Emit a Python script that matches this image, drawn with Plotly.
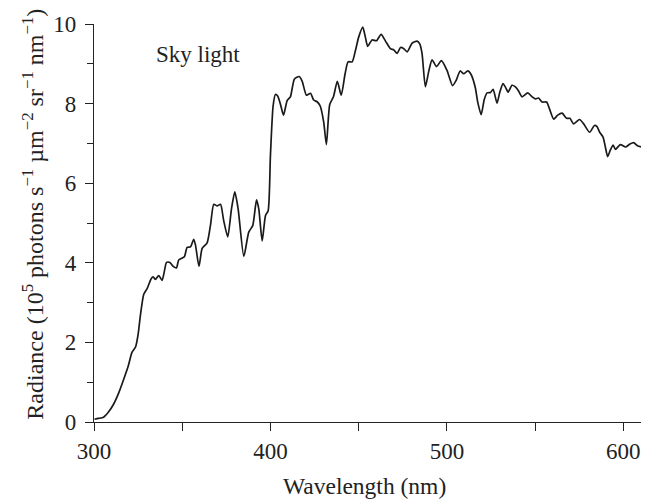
import plotly.graph_objects as go

wavelength = [
    300.3, 302.5, 305.4, 308.2, 311.0, 313.9, 316.8, 319.5, 321.5, 323.6,
    325.0, 326.3, 328.2, 330.1, 332.4, 333.5, 334.8, 336.7, 338.6, 339.9,
    341.1, 343.0, 344.9, 346.7, 348.0, 350.0, 351.3, 352.8, 354.7, 356.5,
    357.5, 359.5, 361.3, 364.1, 366.0, 367.9, 369.8, 371.7, 373.5, 375.8,
    377.9, 379.8, 381.7, 384.9, 387.7, 390.0, 392.1, 393.4, 395.3, 397.2,
    398.7, 400.0, 401.5, 402.8, 404.1, 405.7, 407.4, 409.5, 411.3, 413.6,
    416.3, 418.0, 420.4, 422.7, 424.5, 426.6, 428.2, 430.2, 431.7, 433.6,
    435.7, 437.9, 440.1, 442.3, 444.0, 446.3, 448.2, 450.0, 452.3, 453.8,
    455.1, 457.6, 460.1, 462.7, 465.2, 468.0, 469.9, 471.8, 473.7, 475.6,
    477.5, 480.3, 483.1, 484.6, 485.9, 487.8, 489.7, 491.6, 494.1, 496.9,
    500.0, 503.2, 505.2, 507.5, 509.5, 511.8, 513.7, 516.1, 517.5, 519.4,
    521.2, 522.8, 524.7, 526.2, 528.4, 529.9, 531.8, 533.1, 534.7, 536.9,
    538.8, 540.7, 542.6, 545.8, 548.3, 550.1, 552.0, 553.9, 556.5, 558.2,
    560.5, 562.8, 565.3, 567.8, 569.7, 571.8, 575.2, 577.5, 580.9, 583.6,
    585.1, 586.6, 588.5, 589.8, 591.1, 592.6, 594.2, 595.5, 598.3, 601.2,
    603.6, 605.8, 608.1, 610.0,
]

radiance = [
    0.07, 0.09, 0.12, 0.25, 0.44, 0.72, 1.07, 1.42, 1.75, 1.89,
    2.20, 2.68, 3.21, 3.35, 3.60, 3.65, 3.58, 3.68, 3.56, 3.79,
    4.01, 4.01, 3.91, 3.87, 4.07, 4.12, 4.16, 4.39, 4.40, 4.59,
    4.45, 3.91, 4.36, 4.50, 4.94, 5.47, 5.43, 5.47, 5.06, 4.65,
    5.35, 5.78, 5.35, 4.16, 4.77, 4.94, 5.58, 5.35, 4.55, 5.19,
    5.31, 6.71, 7.94, 8.23, 8.19, 7.98, 7.71, 8.08, 8.17, 8.62,
    8.68, 8.56, 8.21, 8.26, 8.09, 8.04, 7.94, 7.53, 6.97, 7.98,
    8.17, 8.56, 8.21, 8.75, 9.05, 9.05, 9.34, 9.67, 9.92, 9.67,
    9.44, 9.60, 9.58, 9.74, 9.57, 9.38, 9.35, 9.26, 9.41, 9.38,
    9.30, 9.52, 9.57, 9.50, 9.26, 8.42, 8.81, 9.10, 8.93, 9.08,
    8.84, 8.45, 8.58, 8.82, 8.75, 8.82, 8.73, 8.40, 8.03, 7.72,
    8.11, 8.27, 8.28, 8.36, 8.01, 8.27, 8.50, 8.42, 8.29, 8.46,
    8.42, 8.31, 8.17, 8.27, 8.17, 8.12, 8.14, 8.04, 8.04, 7.86,
    7.61, 7.71, 7.76, 7.63, 7.63, 7.49, 7.60, 7.49, 7.28, 7.45,
    7.42, 7.28, 7.16, 6.91, 6.67, 6.83, 6.96, 6.85, 6.97, 6.91,
    6.98, 7.02, 6.94, 6.91,
]

x_ticks = [300, 400, 500, 600]
y_ticks = [0, 2, 4, 6, 8, 10]

FONT = "Liberation Serif, Times New Roman, serif"
INK = "#222"

fig = go.Figure()
fig.add_trace(go.Scatter(
    x=wavelength, y=radiance, mode="lines",
    line=dict(color="#1a1a1a", width=1.7, shape="spline", smoothing=0.6),
    showlegend=False, hoverinfo="skip",
))

fig.add_annotation(
    x=334.0, y=9.23, xref="x", yref="y", text="Sky light",
    showarrow=False, xanchor="left", yanchor="middle",
    font=dict(family=FONT, size=23, color=INK),
)

# axis titles as annotations for precise placement
fig.add_annotation(
    x=0.495, y=-0.162, xref="paper", yref="paper", text="Wavelength (nm)",
    showarrow=False, xanchor="center", yanchor="middle",
    font=dict(family=FONT, size=23.5, color=INK),
)
fig.add_annotation(
    x=0, y=0.521, xref="paper", yref="paper", xshift=-61,
    text="Radiance (10<sup>5</sup> photons s<sup>\u22121</sup> \u00b5m<sup>\u22122</sup> sr<sup>\u22121</sup> nm<sup>\u22121</sup>)",
    textangle=-90, showarrow=False, xanchor="center", yanchor="middle",
    font=dict(family=FONT, size=24, color=INK),
)

fig.update_layout(
    width=655, height=502,
    margin=dict(l=94, r=14, t=17, b=80),
    paper_bgcolor="white", plot_bgcolor="white",
    font=dict(family=FONT, size=23, color=INK),
)

fig.update_xaxes(
    range=[300, 610], tickmode="array", tickvals=x_ticks,
    ticks="outside", ticklen=8, tickwidth=1, tickcolor=INK,
    minor=dict(dtick=50, tick0=300, ticks="outside", ticklen=8, tickwidth=1, tickcolor=INK),
    showline=True, linecolor=INK, linewidth=1.2,
    showgrid=False, zeroline=False,
    tickfont=dict(family=FONT, size=23, color=INK),
)

fig.update_yaxes(
    range=[0, 10], tickmode="array", tickvals=y_ticks,
    ticks="outside", ticklen=8, tickwidth=1, tickcolor=INK,
    minor=dict(dtick=1, tick0=0, ticks="outside", ticklen=6, tickwidth=1, tickcolor=INK),
    showline=True, linecolor=INK, linewidth=1.2,
    showgrid=False, zeroline=False,
    ticklabelstandoff=4,
    tickfont=dict(family=FONT, size=23, color=INK),
)

fig.write_html("out.html")
